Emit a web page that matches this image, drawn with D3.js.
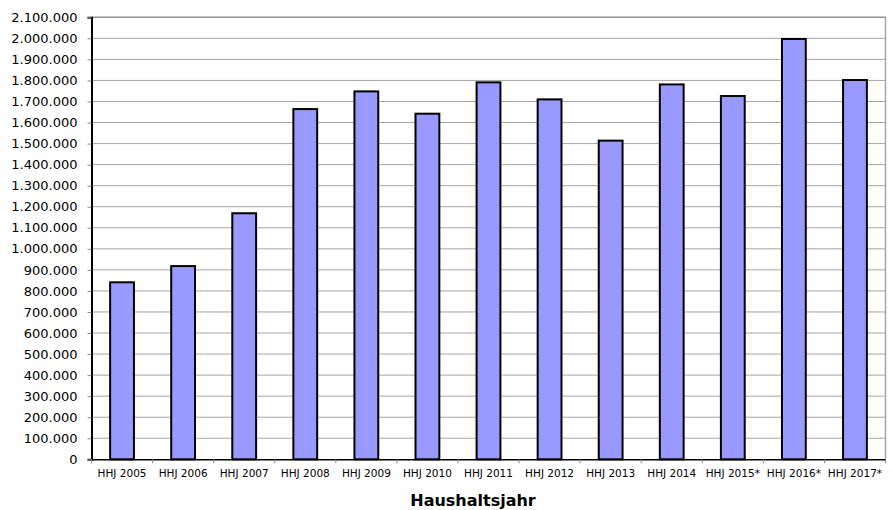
<!DOCTYPE html>
<html><head><meta charset="utf-8">
<script src="https://cdn.jsdelivr.net/npm/d3@7"></script>
<style>body{margin:0;background:#fff}svg{display:block}</style>
</head><body>
<svg id="c" width="894" height="510"></svg>
<script>
const categories = ["HHJ 2005","HHJ 2006","HHJ 2007","HHJ 2008","HHJ 2009","HHJ 2010","HHJ 2011","HHJ 2012","HHJ 2013","HHJ 2014","HHJ 2015*","HHJ 2016*","HHJ 2017*"];
const values = [841000,918000,1169000,1664000,1748000,1642000,1791000,1710000,1514000,1781000,1726000,1997000,1802000];
const yTicks = d3.range(0, 2100001, 100000);
const xTitle = "Haushaltsjahr";

const svg = d3.select("#c");
const L = 91.5, R = 885.5, T = 17.3, B = 459.3;
const x = d3.scaleBand().domain(categories).range([L, R]).paddingInner(0).paddingOuter(0);
const y = d3.scaleLinear().domain([0, 2100000]).range([B, T]);
const fmt = v => d3.format(",")(v).replace(/,/g, ".");

// gridlines
svg.append("g").selectAll("line").data(yTicks.filter(d => d > 0)).join("line")
  .attr("x1", L).attr("x2", R).attr("y1", d => y(d)).attr("y2", d => y(d))
  .attr("stroke", "#a6a6a6").attr("stroke-width", 1);
// right / top border
svg.append("line").attr("x1", R).attr("x2", R).attr("y1", T).attr("y2", B)
  .attr("stroke", "#a6a6a6").attr("stroke-width", 1.5);
svg.append("line").attr("x1", L).attr("x2", R).attr("y1", T).attr("y2", T)
  .attr("stroke", "#999").attr("stroke-width", 1.5);

// bars
const bw = x.bandwidth() * 0.39;
svg.append("g").selectAll("rect").data(values).join("rect")
  .attr("x", (d, i) => x(categories[i]) + x.bandwidth() / 2 - bw / 2)
  .attr("width", bw)
  .attr("y", d => y(d))
  .attr("height", d => B - y(d))
  .attr("fill", "#9999ff").attr("stroke", "#000").attr("stroke-width", 2);

// y axis
const ya = svg.append("g").attr("transform", `translate(${L},0)`)
  .call(d3.axisLeft(y).tickValues(yTicks).tickFormat(fmt).tickSize(4).tickPadding(10));
ya.select(".domain").attr("stroke", "#000").attr("stroke-width", 2);
ya.selectAll(".tick line").attr("stroke", "#888");
ya.selectAll("text").attr("font-family", "DejaVu Sans, Verdana, sans-serif").attr("font-size", "13px").attr("fill", "#000");

// x axis
const xa = svg.append("g").attr("transform", `translate(0,${B})`)
  .call(d3.axisBottom(x).tickSize(0).tickPadding(10));
xa.select(".domain").attr("stroke", "#000").attr("stroke-width", 1.5);
xa.selectAll("text").attr("font-family", "DejaVu Sans, Verdana, sans-serif").attr("font-size", "10.5px").attr("fill", "#000");
// boundary tick marks
svg.append("g").selectAll("line").data(categories.concat([null])).join("line")
  .attr("x1", (d, i) => L + i * x.step()).attr("x2", (d, i) => L + i * x.step())
  .attr("y1", B).attr("y2", B + 4).attr("stroke", "#888");

// title
svg.append("text").attr("x", 473).attr("y", 506).attr("text-anchor", "middle")
  .attr("font-family", "DejaVu Sans, Verdana, sans-serif").attr("font-weight", "bold")
  .attr("font-size", "16px").text(xTitle);
</script>
</body></html>
